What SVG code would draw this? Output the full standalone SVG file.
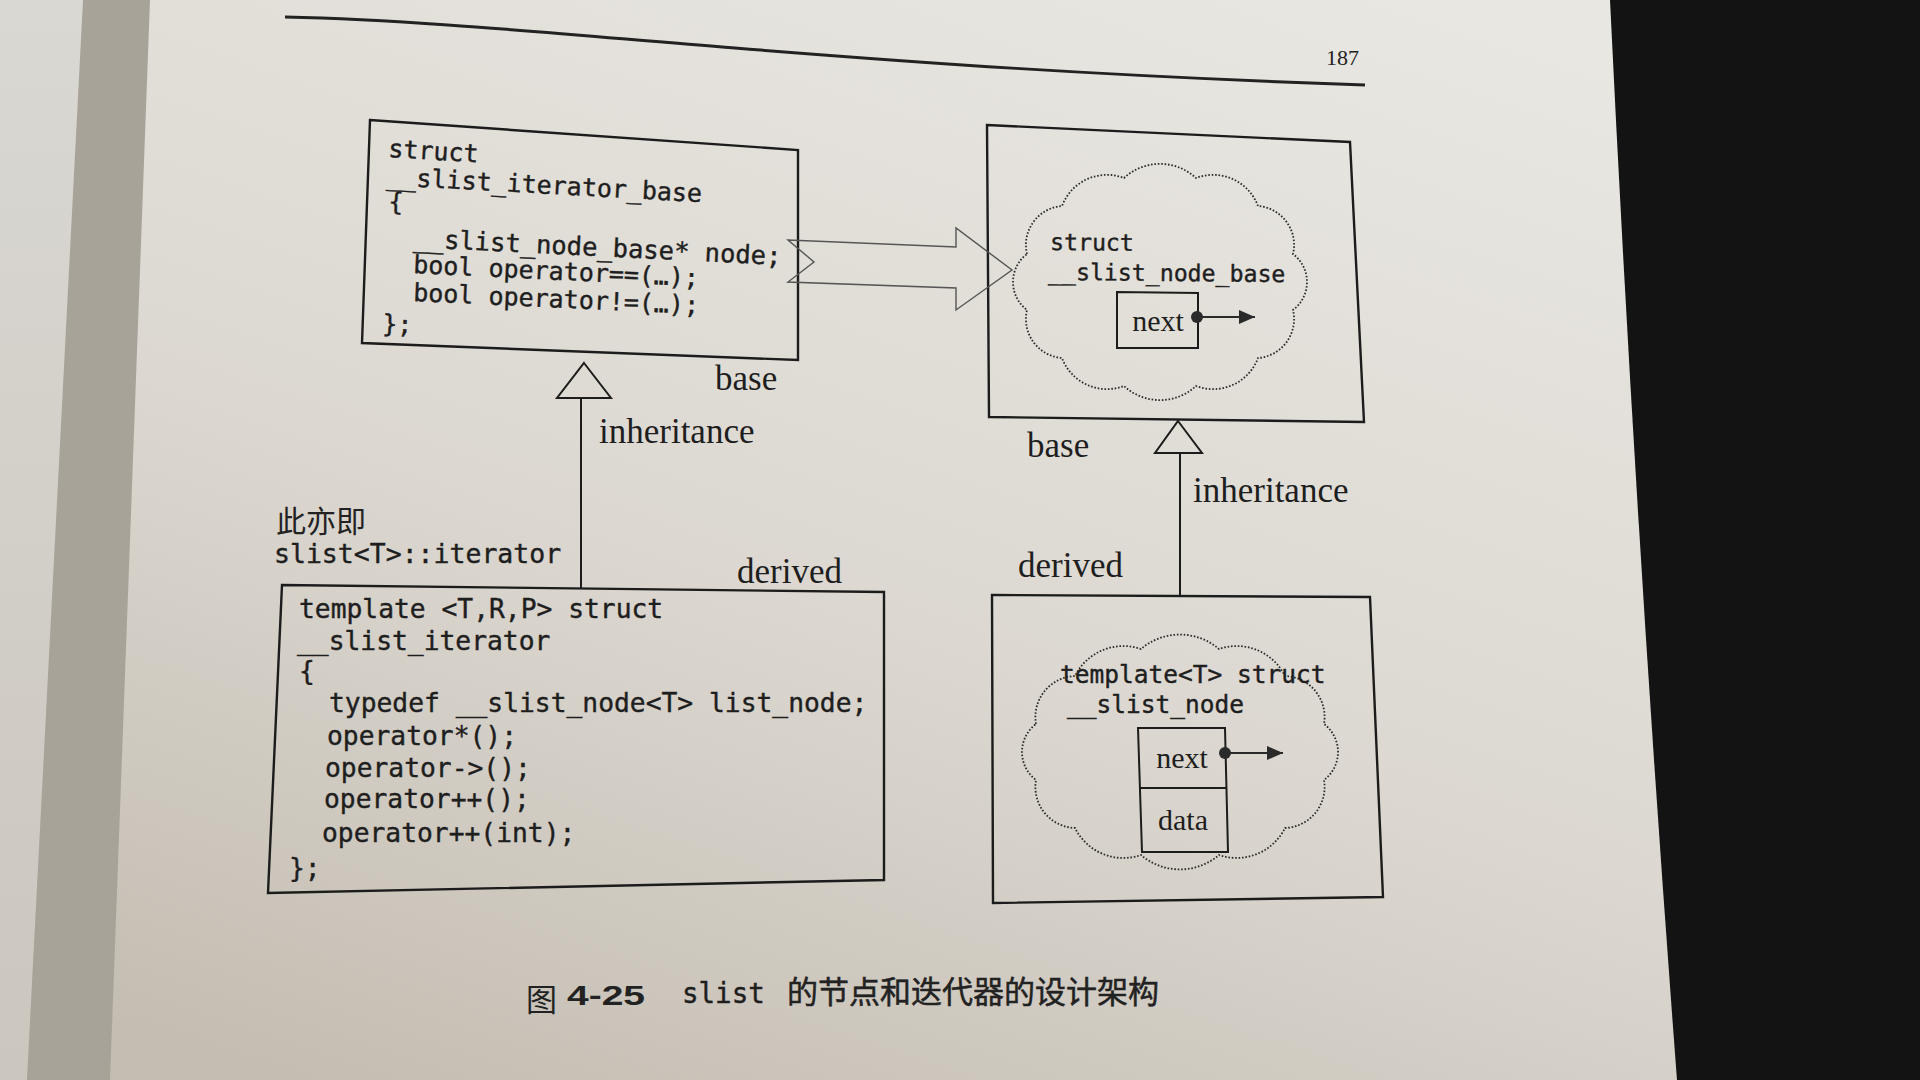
<svg xmlns="http://www.w3.org/2000/svg" width="1920" height="1080" viewBox="0 0 1920 1080">
<defs>
<linearGradient id="paper" x1="0.75" y1="0" x2="0.15" y2="1">
<stop offset="0" stop-color="#e9e7e2"/>
<stop offset="0.55" stop-color="#dcd8d1"/>
<stop offset="1" stop-color="#c4bdb2"/>
</linearGradient>
<linearGradient id="strip" x1="0" y1="0" x2="0" y2="1">
<stop offset="0" stop-color="#dad8d3"/>
<stop offset="1" stop-color="#cbc6be"/>
</linearGradient>
<marker id="ptr" markerUnits="userSpaceOnUse" viewBox="0 0 16 14" refX="16" refY="7" markerWidth="16" markerHeight="14" orient="auto">
<path d="M0,0 L16,7 L0,14 Z" fill="#2a2a2a"/>
</marker>
<style>
.box{fill:none;stroke:#1c1c1c;stroke-width:2.4;stroke-linejoin:miter}
.cell{fill:none;stroke:#1c1c1c;stroke-width:2}
.cloud{fill:none;stroke:#2a2a2a;stroke-width:1.8;stroke-dasharray:1.6 1.8}
.code{font-family:"DejaVu Sans Mono","Liberation Mono",monospace;fill:#1e1e1e;stroke:#1e1e1e;stroke-width:0.4}
.lbl{font-family:"Liberation Serif","Times New Roman",serif;fill:#1e1e1e;font-size:35px}
.cellt{font-family:"Liberation Serif","Times New Roman",serif;fill:#1e1e1e;font-size:30px;text-anchor:middle}
.cjk{font-family:"Noto Sans CJK SC","Noto Sans",sans-serif;fill:#222}
.line{fill:none;stroke:#1c1c1c;stroke-width:2}
.tri{fill:none;stroke:#1c1c1c;stroke-width:2;stroke-linejoin:miter}
.block{fill:none;stroke:#555;stroke-width:1.4;stroke-linejoin:miter}
.ptrl{fill:none;stroke:#2a2a2a;stroke-width:2}
</style>
</defs>

<g id="background">
<rect x="0" y="0" width="1920" height="1080" fill="url(#paper)"/>
<polygon points="0,0 83,0 27,1080 0,1080" fill="url(#strip)"/>
<polygon points="83,0 150,0 110,1080 27,1080" fill="#a8a399"/>
<path d="M1610,0 Q1636,540 1677,1080 L1920,1080 L1920,0 Z" fill="#131313"/>
</g>

<g id="page-header">
<path d="M285,17 C420,20 560,34 735,48 S1100,76 1365,85" fill="none" stroke="#222" stroke-width="3"/>
<text x="1326" y="65" font-family="Liberation Serif, serif" font-size="22" fill="#222">187</text>
</g>

<g id="node-slist-iterator-base">
<polygon class="box" points="370,120 798,150 798,360 362,343"/>
<g class="code" font-size="25">
<text x="388" y="157" transform="rotate(3.4 388 157)">struct</text>
<text x="386" y="185" transform="rotate(3.1 386 185)">__slist_iterator_base</text>
<text x="388" y="210" transform="rotate(3 388 210)">{</text>
<text x="413" y="247" transform="rotate(2.8 413 247)" font-size="25.5">__slist_node_base* node;</text>
<text x="413" y="273" transform="rotate(2.7 413 273)">bool operator==(…);</text>
<text x="413" y="301" transform="rotate(2.6 413 301)">bool operator!=(…);</text>
<text x="382" y="332" transform="rotate(2.5 382 332)">};</text>
</g>
</g>

<g id="node-slist-node-base">
<polygon class="box" points="987,125 1350,142 1364,422 989,417"/>
<path class="cloud" d="M1027,254 A39,39 0 0 1 1062,206 A48,48 0 0 1 1124,178 A53,53 0 0 1 1196,178 A48,48 0 0 1 1258,206 A39,39 0 0 1 1293,254 A35,35 0 0 1 1293,310 A39,39 0 0 1 1258,358 A48,48 0 0 1 1196,386 A53,53 0 0 1 1124,386 A48,48 0 0 1 1062,358 A39,39 0 0 1 1027,310 A35,35 0 0 1 1027,254 Z"/>
<g class="code" font-size="23.2">
<text x="1050" y="250" transform="rotate(0.6 1050 250)">struct</text>
<text x="1048" y="280" transform="rotate(0.5 1048 280)">__slist_node_base</text>
</g>
<polygon class="cell" points="1117,292 1198,293 1198,348 1117,348"/>
<text class="cellt" x="1158" y="331">next</text>
</g>

<g id="node-slist-iterator">
<polygon class="box" points="282,585 884,592 884,880 268,893"/>
<g class="code" font-size="26.3">
<text x="299" y="618">template &lt;T,R,P&gt; struct</text>
<text x="297" y="650">__slist_iterator</text>
<text x="299" y="680">{</text>
<text x="329" y="712">typedef __slist_node&lt;T&gt; list_node;</text>
<text x="327" y="745">operator*();</text>
<text x="325" y="777">operator-&gt;();</text>
<text x="324" y="808">operator++();</text>
<text x="322" y="842">operator++(int);</text>
<text x="289" y="877">};</text>
</g>
</g>

<g id="node-slist-node">
<polygon class="box" points="992,595 1370,597 1383,897 993,903"/>
<path class="cloud" d="M1036,724 A41,41 0 0 1 1075,676 A54,54 0 0 1 1141,649 A60,60 0 0 1 1219,649 A54,54 0 0 1 1285,676 A41,41 0 0 1 1324,724 A35,35 0 0 1 1324,780 A41,41 0 0 1 1285,828 A54,54 0 0 1 1219,855 A60,60 0 0 1 1141,855 A54,54 0 0 1 1075,828 A41,41 0 0 1 1036,780 A35,35 0 0 1 1036,724 Z"/>
<g class="code" font-size="24.5">
<text x="1060" y="683">template&lt;T&gt; struct</text>
<text x="1067" y="713">__slist_node</text>
</g>
<polygon class="cell" points="1138,728 1225,728 1228,852 1142,852"/>
<line class="cell" x1="1140" y1="788" x2="1227" y2="788"/>
<text class="cellt" x="1182" y="768">next</text>
<text class="cellt" x="1183" y="830">data</text>
</g>

<g id="connectors">
<polygon class="block" points="788,240 956,247 956,228 1012,270 956,310 956,288 788,282 814,262"/>
<polyline class="line" points="581,398 581,588"/>
<polygon class="tri" points="584,363 611,398 557,398"/>
<polyline class="line" points="1180,453 1180,596"/>
<polygon class="tri" points="1178,421 1202,453 1155,453"/>
<line class="ptrl" x1="1197" y1="317" x2="1255" y2="317" marker-end="url(#ptr)"/>
<circle cx="1197" cy="317" r="6" fill="#2a2a2a"/>
<line class="ptrl" x1="1225" y1="753" x2="1283" y2="753" marker-end="url(#ptr)"/>
<circle cx="1225" cy="753" r="6" fill="#2a2a2a"/>
</g>

<g id="labels">
<text class="lbl" x="715" y="390">base</text>
<text class="lbl" x="599" y="443">inheritance</text>
<text class="lbl" x="737" y="583">derived</text>
<text class="lbl" x="1027" y="457" font-size="34">base</text>
<text class="lbl" x="1193" y="502" font-size="30">inheritance</text>
<text class="lbl" x="1018" y="577" font-size="34">derived</text>
<text class="cjk" x="276" y="532" font-size="30">此亦即</text>
<text class="code" x="274" y="563" font-size="26.5">slist&lt;T&gt;::iterator</text>
</g>

<g id="caption">
<text class="cjk" x="526" y="1011" font-size="31">图</text>
<text x="567" y="1005" font-family="Liberation Sans, Arial, sans-serif" font-weight="bold" font-size="28" textLength="78" lengthAdjust="spacingAndGlyphs" fill="#222">4-25</text>
<text class="code" x="682" y="1003" font-size="27.5">slist</text>
<text class="cjk" x="787" y="1003" font-size="31" stroke="#222" stroke-width="0.5">的节点和迭代器的设计架构</text>
</g>
</svg>
